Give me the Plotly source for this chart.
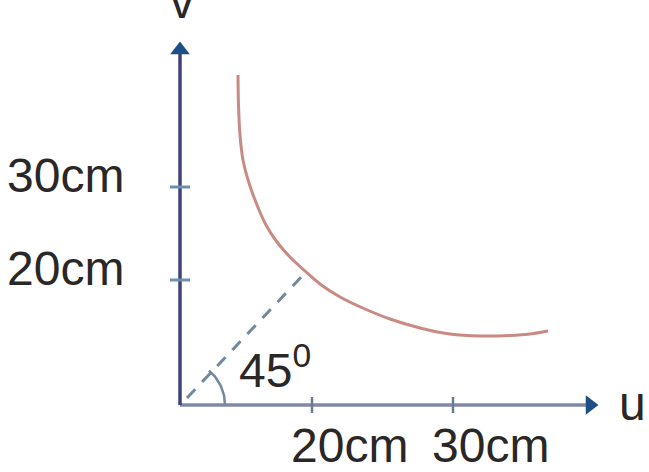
import numpy as np
import plotly.graph_objects as go

# Diagram data (diagram units; origin at the axes' corner)
curve_u = [58, 58.5, 60, 63, 69, 77, 86, 97, 110, 125, 140, 160, 185, 210, 240, 270, 300, 330, 350, 368]
curve_v = [330, 300, 270, 245, 222, 200, 180, 163, 148, 134, 121, 108, 96, 86, 77, 71, 69, 69.5, 71, 74]
meet_point = (125, 132)          # where the 45° line meets the curve
x_tick_pos = [132, 273]
x_tick_labels = ["20cm", "30cm"]
y_tick_pos = [125, 218]
y_tick_labels = ["20cm", "30cm"]
axis_len_x = 410
axis_len_y = 355
angle_deg = 45

fig = go.Figure()

# axes
fig.add_trace(go.Scatter(x=[0, axis_len_x], y=[0, 0], mode="lines",
                         line=dict(color="#8289a8", width=3.5), hoverinfo="skip"))
fig.add_trace(go.Scatter(x=[0, 0], y=[0, axis_len_y], mode="lines",
                         line=dict(color="#3b4379", width=3.5), hoverinfo="skip"))
# arrowheads
fig.add_trace(go.Scatter(x=[axis_len_x], y=[0], mode="markers",
                         marker=dict(symbol="triangle-right", size=17, color="#1d4e85"), hoverinfo="skip"))
fig.add_trace(go.Scatter(x=[0], y=[axis_len_y], mode="markers",
                         marker=dict(symbol="triangle-up", size=17, color="#1d4e85"), hoverinfo="skip"))
# tick marks
for p in y_tick_pos:
    fig.add_trace(go.Scatter(x=[-10, 10], y=[p, p], mode="lines",
                             line=dict(color="#6f8fb0", width=3), hoverinfo="skip"))
for p in x_tick_pos:
    fig.add_trace(go.Scatter(x=[p, p], y=[-8, 8], mode="lines",
                             line=dict(color="#6a7a98", width=2.5), hoverinfo="skip"))

# curve
fig.add_trace(go.Scatter(x=curve_u, y=curve_v, mode="lines", line_shape="spline",
                         line=dict(color="#c98a84", width=3), hoverinfo="skip"))

# dashed 45° line
fig.add_trace(go.Scatter(x=[7, meet_point[0]], y=[7, meet_point[1]], mode="lines",
                         line=dict(color="#7088a0", width=3, dash="12px,10px"), hoverinfo="skip"))

# angle arc
th = np.radians(np.linspace(0, angle_deg + 5, 20))
r = 45
fig.add_trace(go.Scatter(x=r * np.cos(th), y=r * np.sin(th), mode="lines",
                         line=dict(color="#7088a0", width=2.5), hoverinfo="skip"))

font = dict(family="Liberation Sans, Arial, sans-serif", size=48, color="#2b2727")
for p, t in zip(y_tick_pos, y_tick_labels):
    fig.add_annotation(x=-115, y=p + 12, text=t, showarrow=False, font=font)
for p, t in zip(x_tick_pos, x_tick_labels):
    fig.add_annotation(x=p + 37, y=-40, text=t, showarrow=False, font=font)
fig.add_annotation(x=95, y=38, text="45<sup>0</sup>", showarrow=False, font=font)
fig.add_annotation(x=452, y=2, text="u", showarrow=False, font=font)
fig.add_annotation(x=2, y=400, yshift=4, text="v", showarrow=False, font=font)

fig.update_layout(
    width=649, height=472, margin=dict(l=0, r=0, t=0, b=0),
    plot_bgcolor="white", paper_bgcolor="white", showlegend=False,
    xaxis=dict(range=[-180, 469], visible=False, fixedrange=True),
    yaxis=dict(range=[-67, 405], visible=False, fixedrange=True),
)
fig.write_html("out.html", config={"displayModeBar": False},
               post_script="document.body.style.margin='0';document.body.style.overflow='hidden';")
